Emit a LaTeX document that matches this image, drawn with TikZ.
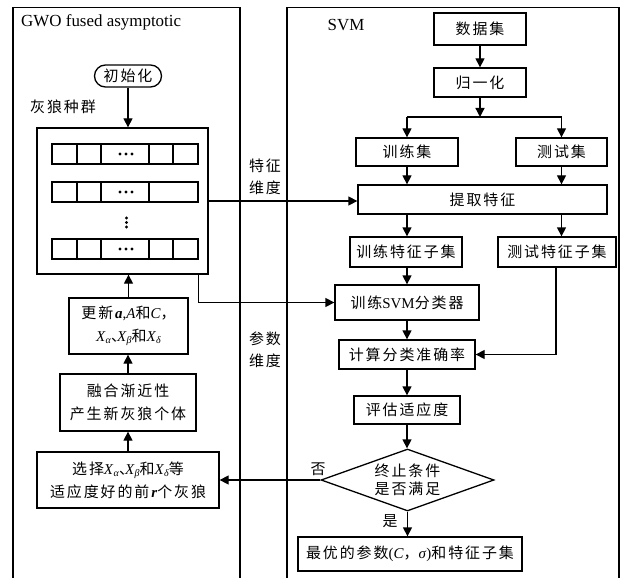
\documentclass[tikz,border=0pt]{standalone}
\usepackage{fontspec}
\setmainfont{Liberation Serif}
\newfontfamily\cjk[LetterSpace=13]{Noto Sans CJK SC}
\usetikzlibrary{arrows.meta,shapes.geometric}
\newcommand{\C}[1]{{\cjk #1}}
\newcommand{\Xs}[1]{\textit{X}\raisebox{-0.35ex}{\fontsize{10}{10}\selectfont\textit{#1}}}
\newcommand{\dun}{\makebox[6bp][l]{\cjk 、}}
\begin{document}
\begin{tikzpicture}[x=1bp,y=-1bp,
  lw/.style={line width=1.3bp},
  arr/.style={lw,-{Triangle[length=9bp,width=9bp]}},
  plain/.style={lw},
  bx/.style={draw,lw,inner sep=0pt,align=center,font=\fontsize{15}{23}\selectfont},
  lbl/.style={inner sep=0pt,align=center,font=\fontsize{15}{22}\selectfont},
  ttl/.style={inner sep=0pt,font=\fontsize{17}{18}\selectfont}]
\useasboundingbox (0,0) rectangle (626,578);
% panels
\draw[lw] (13,578) -- (13,7.5) -- (240,7.5) -- (240,578);
\draw[lw] (287,578) -- (287,7.5) -- (619,7.5) -- (619,578);
\node[ttl,anchor=west] (t1) at (21,22) {GWO fused asymptotic};
\node[ttl] (t2) at (346,25) {SVM};
% left column
\node[bx,rounded corners=11bp,minimum width=67bp,minimum height=22bp] (init) at (128,76) {\C{初始化}};
\node[lbl] (poplbl) at (63,107) {\C{灰狼种群}};
\node[bx,minimum width=171bp,minimum height=146bp] (pop) at (122.5,201) {};
\foreach \ya/\yb/\full in {144/164/1,182/202/0,239/259/1}{
  \draw[lw] (52,\ya) rectangle (198,\yb);
  \draw[lw] (77,\ya) -- (77,\yb) (101,\ya) -- (101,\yb) (149,\ya) -- (149,\yb);
  \ifnum\full=1 \draw[lw] (173,\ya) -- (173,\yb); \fi
  \foreach \xx in {120,126,132} \fill ({\xx},{(\ya+\yb)/2}) circle (1.6bp);
}
\foreach \yy in {218,222.5,227} \fill (126.5,\yy) circle (1.6bp);
\node[bx,minimum width=119bp,minimum height=56bp] (upd) at (128.5,326)
  {\C{更新}\textbf{\textit{a}},\textit{A}\C{和}\textit{C}\C{，}\\ \Xs{α}\dun\Xs{β}\C{和}\Xs{δ}};
\node[bx,minimum width=136bp,minimum height=57bp] (fuse) at (128,402.5) {\C{融合渐近性}\\\C{产生新灰狼个体}};
\node[bx,minimum width=182bp,minimum height=56bp] (sel) at (128,480)
  {\C{选择}\Xs{α}\dun\Xs{β}\C{和}\Xs{δ}\C{等}\\\C{适应度好的前}\textbf{\textit{r}}\C{个灰狼}};
% right column
\node[bx,minimum width=92bp,minimum height=32bp] (data) at (480,29) {\C{数据集}};
\node[bx,minimum width=92bp,minimum height=29bp] (norm) at (480,82.5) {\C{归一化}};
\coordinate (split) at (480,117);
\node[bx,minimum width=102bp,minimum height=28bp] (train) at (407,152) {\C{训练集}};
\node[bx,minimum width=91bp,minimum height=28bp] (test) at (561.5,152) {\C{测试集}};
\node[bx,minimum width=249bp,minimum height=29bp] (ext) at (482.5,199.5) {\C{提取特征}};
\node[bx,minimum width=112bp,minimum height=30bp] (trf) at (406,252) {\C{训练特征子集}};
\node[bx,minimum width=118bp,minimum height=30bp] (tef) at (557,252) {\C{测试特征子集}};
\node[bx,minimum width=144bp,minimum height=35bp] (svm) at (407,302.5) {\C{训练}SVM\C{分类器}};
\node[bx,minimum width=136bp,minimum height=29bp] (acc) at (407,354.5) {\C{计算分类准确率}};
\node[bx,minimum width=106bp,minimum height=28bp] (eval) at (407,410) {\C{评估适应度}};
\node[draw,lw,diamond,aspect=2.79,minimum width=173bp,minimum height=62bp,inner sep=0pt] (dec) at (407.5,480) {};
\node[lbl,font=\fontsize{15}{18.5}\selectfont] (dectxt) at (407.5,480) {\C{终止条件}\\\C{是否满足}};
\node[bx,minimum width=224bp,minimum height=34bp] (fin) at (410,554) {\C{最优的参数}(\textit{C}\C{，}\textit{σ})\C{和特征子集}};
% labels
\node[lbl] (l1) at (265,177) {\C{特征}\\\C{维度}};
\node[lbl] (l2) at (265,350) {\C{参数}\\\C{维度}};
\node[lbl] (no) at (318,469) {\C{否}};
\node[lbl] (yes) at (390,521) {\C{是}};
% connectors
\draw[arr] (init.south) -- (init.south |- pop.north);
\draw[arr] (upd.north) -- (upd.north |- pop.south);
\draw[arr] (fuse.north) -- (fuse.north |- upd.south);
\draw[arr] (sel.north) -- (sel.north |- fuse.south);
\draw[arr] (pop.east) -- (pop.east -| ext.west);
\draw[arr] ([xshift=-10bp]pop.south east) |- (svm.west);
\draw[arr] (data.south) -- (norm.north);
\draw[arr] (norm.south) -- (split);
\draw[plain] (split -| train) -- (split -| test);
\draw[arr] (split -| train) -- (train.north);
\draw[arr] (split -| test) -- (test.north);
\draw[arr] (train.south) -- (train.south |- ext.north);
\draw[arr] (test.south) -- (test.south |- ext.north);
\draw[arr] (train |- ext.south) -- (train |- trf.north);
\draw[arr] (test |- ext.south) -- (test |- tef.north);
\draw[arr] (svm |- trf.south) -- (svm.north);
\draw[arr] ([xshift=-1bp]tef.south) |- (acc.east);
\draw[arr] (svm.south) -- (acc.north);
\draw[arr] (acc.south) -- (eval.north);
\draw[arr] (eval.south) -- (eval.south |- dec.north);
\draw[arr] (dec.south) -- (dec.south |- fin.north);
\draw[arr] (dec.west) -- (sel.east);
\end{tikzpicture}
\end{document}
